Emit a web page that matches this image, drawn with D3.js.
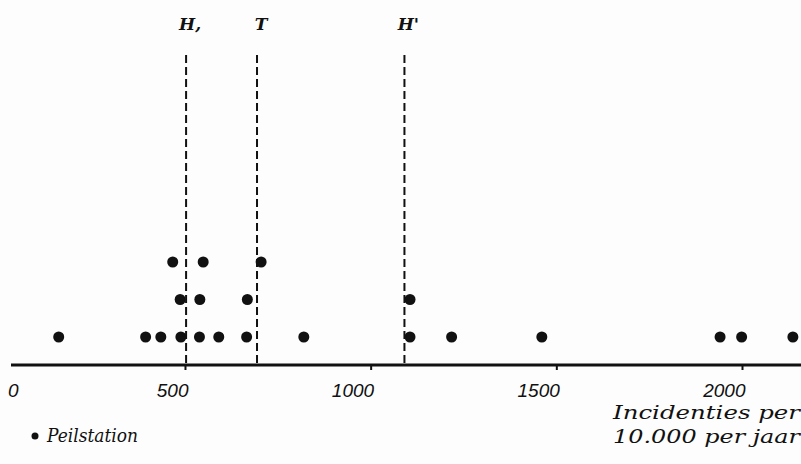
<!DOCTYPE html>
<html>
<head>
<meta charset="utf-8">
<script src="https://cdn.jsdelivr.net/npm/d3@7"></script>
<style>
  html, body { margin: 0; padding: 0; background: #fdfdfd; }
  svg { display: block; }
</style>
</head>
<body>
<script>
// ---- data ----
const stationValues = [160, 394, 435, 489, 539, 591, 666, 820, 1106, 1218, 1461, 1941, 1999, 2137,
                       487, 540, 668, 1106,
                       467, 549, 705];
const stationLevels = [1, 1, 1, 1, 1, 1, 1, 1, 1, 1, 1, 1, 1, 1,
                       2, 2, 2, 2,
                       3, 3, 3];
const refLabels = ["H,", "T", "H'"];
const refValues = [503, 694, 1091];
const tickValues = [0, 500, 1000, 1500, 2000];
const axisTitle = ["Incidenties per", "10.000 per jaar"];
const legendLabel = "Peilstation";

// ---- drawing ----
const W = 801, H = 464;
const svg = d3.select("body").append("svg").attr("width", W).attr("height", H);
svg.append("rect").attr("width", W).attr("height", H).attr("fill", "#fdfdfd");

const x = d3.scaleLinear().domain([0, 2000]).range([-0.7, 742]);
const y = d3.scaleLinear().domain([1, 3]).range([337, 262]);
const axisY = 365;

// dashed reference lines
svg.selectAll("line.ref").data(refValues).join("line")
  .attr("class", "ref")
  .attr("x1", d => x(d)).attr("x2", d => x(d))
  .attr("y1", 55).attr("y2", axisY)
  .attr("stroke", "#111").attr("stroke-width", 2)
  .attr("stroke-dasharray", "8,4");

svg.selectAll("text.ref").data(refLabels).join("text")
  .attr("class", "ref")
  .attr("x", (d, i) => x(refValues[i]) + 4)
  .attr("y", 30)
  .attr("text-anchor", "middle")
  .attr("font-family", "'DejaVu Serif', serif")
  .attr("font-style", "italic")
  .attr("font-weight", "bold")
  .attr("font-size", 17)
  .attr("fill", "#111")
  .text(d => d);

// axis line
svg.append("line")
  .attr("x1", 11).attr("x2", W)
  .attr("y1", axisY).attr("y2", axisY)
  .attr("stroke", "#111").attr("stroke-width", 3);

// ticks via d3 axis
const axis = d3.axisBottom(x).tickValues(tickValues).tickSize(5).tickFormat(d3.format("d"));
const gAxis = svg.append("g").attr("transform", `translate(0,${axisY})`).call(axis);
gAxis.select(".domain").remove();
gAxis.selectAll(".tick line").attr("stroke", "#111").attr("stroke-width", 2)
  .attr("opacity", d => d === 0 ? 0 : 1);
gAxis.selectAll(".tick text")
  .attr("fill", "#111")
  .attr("font-family", "'Liberation Sans', Arial, sans-serif")
  .attr("font-style", "italic")
  .attr("font-size", 19)
  .attr("text-anchor", "end")
  .attr("y", 32)
  .attr("dy", 0)
  .attr("x", function(d) { return d === 0 ? 18 - x(0) : 3; });

// points
svg.selectAll("circle.pt").data(stationValues).join("circle")
  .attr("class", "pt")
  .attr("cx", d => x(d))
  .attr("cy", (d, i) => y(stationLevels[i]))
  .attr("r", 5.5)
  .attr("fill", "#111");

// axis title
svg.selectAll("text.title").data(axisTitle).join("text")
  .attr("class", "title")
  .attr("x", 800).attr("y", (d, i) => 419 + i * 24)
  .attr("text-anchor", "end")
  .attr("font-family", "'DejaVu Serif', serif")
  .attr("font-style", "italic")
  .attr("font-size", 19)
  .attr("fill", "#111")
  .attr("textLength", 187)
  .attr("lengthAdjust", "spacingAndGlyphs")
  .text(d => d);

// legend
svg.append("circle").attr("cx", 35).attr("cy", 436).attr("r", 3.5).attr("fill", "#111");
svg.append("text")
  .attr("x", 47).attr("y", 442)
  .attr("font-family", "'DejaVu Serif', serif")
  .attr("font-style", "italic")
  .attr("font-size", 19)
  .attr("fill", "#111")
  .attr("textLength", 91)
  .attr("lengthAdjust", "spacingAndGlyphs")
  .text(legendLabel);
</script>
</body>
</html>
